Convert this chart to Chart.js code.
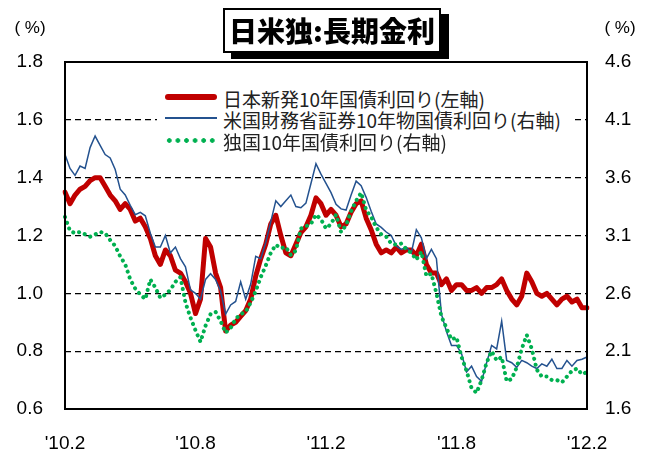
<!DOCTYPE html>
<html lang="ja">
<head>
<meta charset="utf-8">
<title>日米独:長期金利</title>
<script src="https://cdn.jsdelivr.net/npm/chart.js@4.4.1/dist/chart.umd.min.js"></script>
<style>
  html, body { margin: 0; padding: 0; background: #fff; }
  #wrap { position: relative; width: 650px; height: 453px; overflow: hidden; }
  #chart { position: absolute; left: 0; top: 0; }
  .title {
    position: absolute; left: 223px; top: 8px; width: 214px; height: 41px;
    border: 2px solid #000; background: #fff; box-shadow: 8px 6px 0 #000;
    font: 900 28px "Noto Sans CJK JP", sans-serif; line-height: 41px;
    text-align: center; color: #000;
  }
  .unit {
    position: absolute; top: 18px; width: 40px; text-align: center;
    font: 17px "Liberation Sans", Arial, sans-serif; color: #000;
  }
  .legend {
    position: absolute; left: 157px; top: 84px; width: 418px; height: 66px;
    background: #fff;
  }
  .row { position: absolute; left: 0; height: 24px; width: 418px; }
  .swatch { position: absolute; left: 8px; width: 52px; }
  .label {
    position: absolute; left: 66px; top: 0; line-height: 24px; white-space: nowrap;
    font: 19px "Noto Sans CJK JP", sans-serif; color: #222;
  }
</style>
</head>
<body>
<div id="wrap">
  <canvas id="chart" width="650" height="453"></canvas>
  <div class="title">日米独:長期金利</div>
  <div class="unit" style="left: 10px;">( %)</div>
  <div class="unit" style="left: 600px;">( %)</div>
  <div class="legend" id="legend"></div>
</div>
<script>
// Weekly 10-year yields, Feb 2010 - Feb 2012
const japanYield = [
  1.35, 1.31, 1.34, 1.36, 1.37, 1.39, 1.40, 1.40, 1.37, 1.34,
  1.32, 1.29, 1.31, 1.29, 1.25, 1.26, 1.23, 1.19, 1.13, 1.10,
  1.15, 1.13, 1.08, 1.07, 1.04, 1.00, 0.93, 0.98, 1.19, 1.16,
  1.07, 1.02, 0.87, 0.89, 0.90, 0.92, 0.94, 0.98, 1.06, 1.12,
  1.17, 1.24, 1.27, 1.20, 1.14, 1.13, 1.17, 1.21, 1.23, 1.27,
  1.33, 1.31, 1.27, 1.29, 1.27, 1.23, 1.24, 1.28, 1.31, 1.32,
  1.26, 1.22, 1.17, 1.14, 1.15, 1.14, 1.16, 1.14, 1.15, 1.15,
  1.13, 1.17, 1.10, 1.07, 1.07, 1.03, 1.05, 1.01, 1.03, 1.03,
  1.01, 1.01, 1.02, 1.00, 1.02, 1.02, 1.03, 1.05, 1.01, 0.98,
  0.96, 0.99, 1.07, 1.04, 1.00, 0.99, 1.00, 0.98, 0.96, 0.98,
  0.99, 0.97, 0.98, 0.95, 0.95
];

const usYield = [
  3.80, 3.68, 3.62, 3.70, 3.68, 3.86, 3.96, 3.88, 3.80, 3.77,
  3.67, 3.50, 3.45, 3.36, 3.28, 3.30, 3.27, 3.12, 3.00, 3.00,
  3.10, 2.95, 3.00, 2.90, 2.83, 2.63, 2.60, 2.55, 2.72, 2.77,
  2.72, 2.62, 2.42, 2.50, 2.53, 2.70, 2.55, 2.68, 2.92, 2.90,
  3.04, 3.22, 3.40, 3.35, 3.40, 3.45, 3.35, 3.34, 3.38, 3.55,
  3.72, 3.63, 3.55, 3.47, 3.37, 3.33, 3.32, 3.45, 3.57, 3.53,
  3.43, 3.31, 3.20, 3.17, 3.13, 3.10, 3.01, 2.98, 3.00, 2.95,
  3.15, 3.08, 2.90, 2.98, 2.90, 2.42, 2.27, 2.15, 2.15, 2.08,
  1.92, 1.97, 1.88, 1.84, 2.00, 2.15, 2.12, 2.36, 2.02, 2.00,
  1.96, 2.02, 2.00, 1.97, 1.95, 1.99, 1.97, 2.03, 1.95, 1.95,
  2.02, 1.97, 2.02, 2.03, 2.05
];

const germanYield = [
  3.26, 3.14, 3.12, 3.13, 3.11, 3.09, 3.11, 3.13, 3.12, 3.06,
  3.01, 2.92, 2.85, 2.72, 2.64, 2.59, 2.55, 2.72, 2.65, 2.56,
  2.59, 2.63, 2.70, 2.74, 2.52, 2.39, 2.28, 2.18, 2.32, 2.42,
  2.44, 2.36, 2.26, 2.30, 2.38, 2.42, 2.44, 2.52, 2.62, 2.74,
  2.84, 2.95, 3.02, 2.99, 3.00, 2.93, 2.97, 3.16, 3.18, 3.20,
  3.28, 3.24, 3.16, 3.20, 3.28, 3.13, 3.19, 3.31, 3.40, 3.47,
  3.32, 3.26, 3.17, 3.11, 3.09, 3.03, 3.02, 3.03, 2.98, 2.95,
  2.89, 2.96, 2.75, 2.77, 2.60, 2.40, 2.30, 2.20, 2.22, 2.05,
  1.93, 1.78, 1.74, 1.85, 2.00, 2.10, 2.02, 2.05, 1.84, 1.86,
  1.96, 2.12, 2.24, 2.12, 1.94, 1.88, 1.88, 1.85, 1.85, 1.83,
  1.88, 1.93, 1.95, 1.90, 1.92
];

// x axis: one label every 26 weeks
const xTickLabels = ["'10.2", "'10.8", "'11.2", "'11.8", "'12.2"];
const weeksPerTick = 26;
const weeks = japanYield.map((_, i) => i);

const seriesLabels = [
  '日本新発10年国債利回り(左軸)',
  '米国財務省証券10年物国債利回り(右軸)',
  '独国10年国債利回り(右軸)'
];

const RED = '#c00000';
const BLUE = '#24528f';
const GREEN = '#00b050';

// HTML legend inside the plot
const swatches = [
  'top:9px;height:6px;border-radius:3px;background:' + RED,
  'top:11px;height:2px;background:' + BLUE,
  'top:10px;height:5px;background:radial-gradient(circle, ' + GREEN + ' 2px, transparent 2.6px) 0 0/8.6px 5px repeat-x'
];
const rowTops = [1, 22, 44];
const legend = document.getElementById('legend');
seriesLabels.forEach((text, i) => {
  const row = document.createElement('div');
  row.className = 'row';
  row.style.top = rowTops[i] + 'px';
  row.innerHTML = '<div class="swatch" style="' + swatches[i] + '"></div><span class="label">' + text + '</span>';
  legend.appendChild(row);
});

// Plot frame drawn over the data
const framePlugin = {
  id: 'frame',
  afterDraw(chart) {
    const { ctx, chartArea: a } = chart;
    ctx.save();
    ctx.strokeStyle = '#000';
    ctx.lineWidth = 2;
    ctx.strokeRect(a.left, a.top, a.right - a.left, a.bottom - a.top);
    ctx.restore();
  }
};

const tickFont = { family: '"Liberation Sans", Arial, sans-serif', size: 19 };

new Chart(document.getElementById('chart'), {
  type: 'line',
  data: {
    labels: weeks,
    datasets: [
      {
        label: seriesLabels[0],
        data: japanYield,
        yAxisID: 'y',
        borderColor: RED,
        borderWidth: 5,
        borderJoinStyle: 'round',
        borderCapStyle: 'round',
        pointRadius: 0,
        tension: 0,
        order: 2
      },
      {
        label: seriesLabels[1],
        data: usYield,
        yAxisID: 'y2',
        borderColor: BLUE,
        borderWidth: 1.5,
        pointRadius: 0,
        tension: 0,
        order: 1
      },
      {
        label: seriesLabels[2],
        data: germanYield,
        yAxisID: 'y2',
        borderColor: GREEN,
        borderWidth: 4,
        borderDash: [0.1, 6],
        borderCapStyle: 'round',
        pointRadius: 0,
        tension: 0,
        order: 0
      }
    ]
  },
  options: {
    responsive: false,
    animation: false,
    devicePixelRatio: 1,
    layout: { padding: { top: 62, left: 0, right: 0, bottom: 0 } },
    plugins: {
      legend: { display: false },
      tooltip: { enabled: false }
    },
    scales: {
      x: {
        type: 'category',
        grid: { display: false, drawTicks: false },
        border: { display: false },
        afterFit: scale => { scale.height = 44; },
        ticks: {
          autoSkip: false,
          maxRotation: 0,
          minRotation: 0,
          padding: 23,
          color: '#000',
          font: tickFont,
          callback: (value, index) => index % weeksPerTick === 0 ? xTickLabels[index / weeksPerTick] : ''
        }
      },
      y: {
        position: 'left',
        min: 0.6,
        max: 1.8,
        afterFit: scale => { scale.width = 65; },
        grid: {
          drawTicks: false,
          color: c => (c.tick.value <= 0.61 || c.tick.value >= 1.79) ? 'rgba(0,0,0,0)' : '#000',
          lineWidth: 1.2
        },
        border: { display: false, dash: [6, 4] },
        ticks: {
          stepSize: 0.2,
          padding: 22,
          color: '#000',
          font: tickFont,
          callback: v => v.toFixed(1)
        }
      },
      y2: {
        position: 'right',
        min: 1.6,
        max: 4.6,
        afterFit: scale => { scale.width = 63; },
        grid: { display: false, drawTicks: false },
        border: { display: false },
        ticks: {
          stepSize: 0.5,
          padding: 18,
          color: '#000',
          font: tickFont,
          callback: v => v.toFixed(1)
        }
      }
    }
  },
  plugins: [framePlugin]
});
</script>
</body>
</html>
